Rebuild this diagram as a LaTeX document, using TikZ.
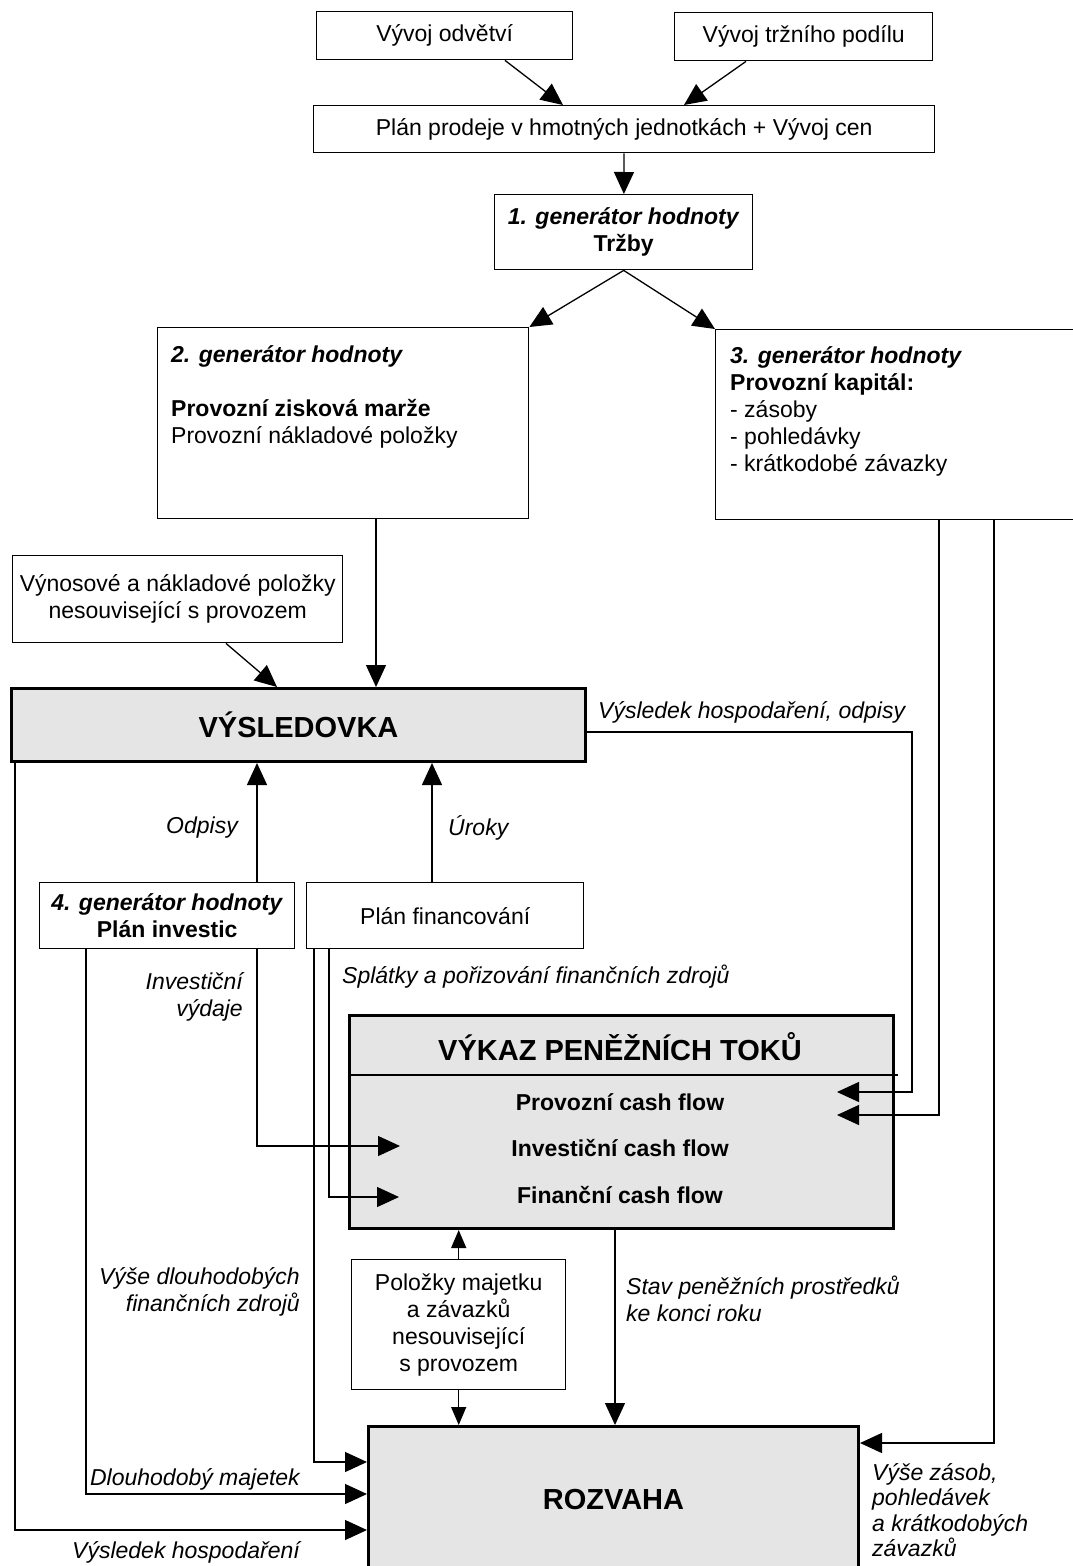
\documentclass[tikz,border=0pt]{standalone}
\usepackage{fontspec}
\setmainfont{Liberation Sans}
\usetikzlibrary{arrows.meta,positioning}
\newcommand{\txtsize}{\fontsize{23pt}{27pt}\selectfont}
\newcommand{\bigsize}{\fontsize{29pt}{34pt}\selectfont}
\begin{document}
\begin{tikzpicture}[x=1pt,y=-1pt,
  every node/.style={font=\txtsize},
  box/.style={draw, line width=1.4pt, inner sep=0pt, align=center, anchor=north west},
  mainbox/.style={box, line width=3pt, fill=black!10},
  title/.style={font=\bigsize\bfseries, inner sep=0pt},
  cfrow/.style={font=\txtsize\bfseries, inner sep=0pt},
  lbl/.style={font=\txtsize\itshape, inner sep=0pt},
  arr/.style={line width=1.3pt, -{Triangle[length=22pt,width=20pt]}},
  sarr/.style={line width=1.3pt, -{Triangle[length=18pt,width=15pt]}}]
\useasboundingbox (0,0) rectangle (1073,1566);
\node[box, minimum width=256pt, minimum height=48pt] (odvetvi) at (316,11) {Vývoj odvětví};
\node[box, minimum width=258pt, minimum height=48pt] (podil) at (674,12) {Vývoj tržního podílu};
\node[box, minimum width=621pt, minimum height=47pt] (prodej) at (313,105) {Plán prodeje v hmotných jednotkách + Vývoj cen};
\node[box, minimum width=258pt, minimum height=75pt] (gen1) at (494,194) {\textbf{\textit{1. generátor hodnoty}}\\\textbf{Tržby}};
\node[box, minimum width=371pt, minimum height=191pt] (gen2) at (157,327) {};
\node[inner sep=0pt, align=left, anchor=north west] (gen2txt) at (171,345) {\textbf{\textit{2. generátor hodnoty}}\\[27pt]\textbf{Provozní zisková marže}\\Provozní nákladové položky};
\node[box, minimum width=370pt, minimum height=190pt] (gen3) at (715,329) {};
\node[inner sep=0pt, align=left, anchor=north west] (gen3txt) at (730,346) {\textbf{\textit{3. generátor hodnoty}}\\\textbf{Provozní kapitál:}\\- zásoby\\- pohledávky\\- krátkodobé závazky};
\node[box, minimum width=330pt, minimum height=87pt] (vynosy) at (12,555) {Výnosové a nákladové položky\\nesouvisející s provozem};
\node[mainbox, minimum width=574pt, minimum height=73pt, font=\bigsize\bfseries] (vysl) at (10,687) {VÝSLEDOVKA};
\node[box, minimum width=255pt, minimum height=66pt, font=\txtsize\bfseries] (gen4) at (39,882) {\textit{4. generátor hodnoty}\\Plán investic};
\node[box, minimum width=277pt, minimum height=66pt] (finplan) at (306,882) {Plán financování};
\node[mainbox, minimum width=544pt, minimum height=213pt] (vykaz) at (348,1014) {};
\node[title] (vykaztit) at (620,1047) {VÝKAZ PENĚŽNÍCH TOKŮ};
\node[cfrow] (provcf) at (620,1102) {Provozní cash flow};
\node[cfrow] (invcf) at (620,1148) {Investiční cash flow};
\node[cfrow] (fincf) at (620,1195) {Finanční cash flow};
\node[box, minimum width=214pt, minimum height=130pt] (polozky) at (351,1259) {Položky majetku\\a závazků\\nesouvisející\\s provozem};
\node[mainbox, minimum width=490pt, minimum height=145pt, font=\bigsize\bfseries] (rozvaha) at (367,1425) {ROZVAHA};
\node[lbl, anchor=west] (lvysl) at (598,712) {Výsledek hospodaření, odpisy};
\node[lbl, anchor=east] (lodpisy) at (238,828) {Odpisy};
\node[lbl, anchor=west] (luroky) at (448,828) {Úroky};
\node[lbl, anchor=east, align=right] (linv) at (243,997) {Investiční\\výdaje};
\node[lbl, anchor=west] (lsplatky) at (342,977) {Splátky a pořizování finančních zdrojů};
\node[lbl, anchor=east, align=right] (ldlzdroje) at (300,1292) {Výše dlouhodobých\\finančních zdrojů};
\node[lbl, anchor=east] (ldlmajetek) at (300,1479) {Dlouhodobý majetek};
\node[lbl, anchor=east] (lvh) at (300,1552) {Výsledek hospodaření};
\node[lbl, anchor=west, align=left] (lstav) at (626,1299) {Stav peněžních prostředků\\ke konci roku};
\node[lbl, anchor=north west, align=left, font=\fontsize{23pt}{25.5pt}\selectfont\itshape] (lzasoby) at (872,1463) {Výše zásob,\\pohledávek\\a krátkodobých\\závazků};
\coordinate (tprov1) at (837,1092);
\coordinate (tprov2) at (837,1115);
\coordinate (tinv) at (400,1146);
\coordinate (tfin) at (399,1197);
\draw[line width=1.3pt] ([yshift=-61pt]vykaz.north west) -- ([xshift=3pt,yshift=-61pt]vykaz.north east);
\draw[arr] ([xshift=189pt]odvetvi.south west) -- ([xshift=250pt]prodej.north west);
\draw[arr] ([xshift=72pt]podil.south west) -- ([xshift=371pt]prodej.north west);
\draw[arr] (prodej) -- (gen1);
\draw[arr] (gen1.south) -- (gen2.north east);
\draw[arr] (gen1.south) -- (gen3.north west);
\draw[arr] ([xshift=219pt]gen2.south west) -- ([xshift=366pt]vysl.north west);
\draw[arr] ([xshift=214pt]vynosy.south west) -- ([xshift=267pt]vysl.north west);
\draw[arr] ([xshift=218pt]gen4.north west) -- ([xshift=247pt]vysl.south west);
\draw[arr] ([xshift=126pt]finplan.north west) -- ([xshift=422pt]vysl.south west);
\draw[arr] ([yshift=-45pt]vysl.north east) -| ([xshift=75pt]tprov1) -- (tprov1);
\draw[arr] ([xshift=224pt]gen3.south west) |- (tprov2);
\draw[arr] ([xshift=279pt]gen3.south west) |- ([yshift=-18pt]rozvaha.north east);
\draw[arr] ([xshift=5pt]vysl.south west) |- ([yshift=-105pt]rozvaha.north west);
\draw[arr] ([xshift=47pt]gen4.south west) |- ([yshift=-69pt]rozvaha.north west);
\draw[arr] ([xshift=218pt]gen4.south west) |- (tinv);
\draw[arr] ([xshift=8pt]finplan.south west) |- ([yshift=-37pt]rozvaha.north west);
\draw[arr] ([xshift=23pt]finplan.south west) |- (tfin);
\draw[sarr] (polozky) -- (polozky |- vykaz.south);
\draw[sarr] (polozky) -- (polozky |- rozvaha.north);
\draw[arr] ([xshift=267pt]vykaz.south west) -- ([xshift=248pt]rozvaha.north west);
\end{tikzpicture}
\end{document}
